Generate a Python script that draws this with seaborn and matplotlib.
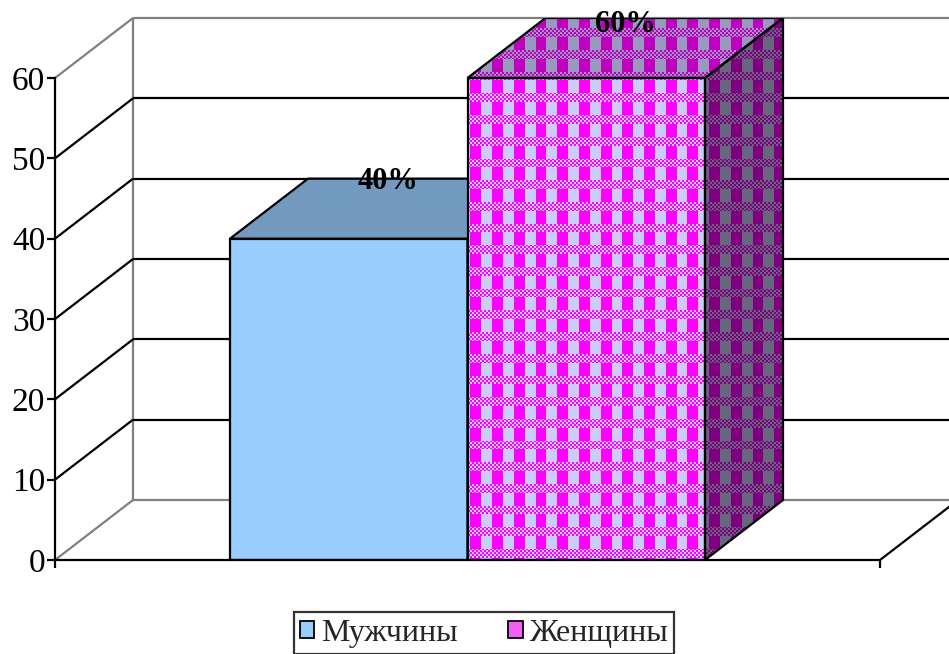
import numpy as np
import matplotlib
matplotlib.use("Agg")
import matplotlib.pyplot as plt
from matplotlib.patches import Polygon, Patch
import pandas as pd
import seaborn as sns

# ---- data ---------------------------------------------------------------
categories = ["Мужчины", "Женщины"]
values = [40, 60]
value_labels = ["40%", "60%"]
y_ticks = [0, 10, 20, 30, 40, 50, 60]

# ---- style --------------------------------------------------------------
sns.set_style("white")
plt.rcParams["font.family"] = ["Liberation Serif", "DejaVu Serif"]

BLUE = "#99CCFF"
MAGENTA = np.array([255, 0, 255]) / 255
LAVENDER = np.array([204, 204, 255]) / 255
GRAY = "#808080"
LW = 1.6

W, H = 949, 654
fig = plt.figure(figsize=(W / 100, H / 100), dpi=100)

# plot area (pixels from the top-left corner of the figure)
left_px, right_px = 55, 949
bottom_px, top_px = 560, 18
ax = fig.add_axes([left_px / W, 1 - bottom_px / H,
                   (right_px - left_px) / W, (bottom_px - top_px) / H])

df = pd.DataFrame({"sex": categories, "share": values})
sns.barplot(data=df, x="sex", y="share", hue="sex", order=categories,
            hue_order=categories, palette=[BLUE, "#FF00FF"], width=1.0,
            saturation=1, edgecolor="black", linewidth=LW, legend=False,
            ax=ax, zorder=5)

# ---- scales: category unit = 237.5 px, value unit = 482/60 px ----------
px_x = 237.5
px_y = 482 / 60
depth_px = (78, 60)
x_front0 = -0.5 - 175 / px_x
x_front1 = 1.5 + 175 / px_x
x_lim = (x_front0, x_front0 + (right_px - left_px) / px_x)
y_lim = (0, (bottom_px - top_px) / px_y)
dx = depth_px[0] / px_x
dy = depth_px[1] / px_y
vmax = y_ticks[-1]


def line(xs, ys, color="black", lw=LW, z=1):
    ax.plot(xs, ys, color=color, lw=lw, zorder=z, clip_on=False,
            solid_capstyle="butt")


# walls, floor and gridlines
line([x_front0 + dx, x_front0 + dx], [dy, vmax + dy], GRAY)
line([x_front0 + dx, x_front1 + dx], [vmax + dy, vmax + dy], GRAY)
line([x_front0 + dx, x_front1 + dx], [dy, dy], GRAY)
line([x_front0, x_front0 + dx], [0, dy], GRAY)
line([x_front0, x_front0 + dx], [vmax, vmax + dy], GRAY)
for v in y_ticks[1:-1]:
    line([x_front0, x_front0 + dx], [v, v + dy])
    line([x_front0 + dx, x_front1 + dx], [v + dy, v + dy])
line([x_front1, x_front1 + dx], [0, dy])

ax.set_xlim(*x_lim)
ax.set_ylim(*y_lim)


def texture(nx, ny, y_anchor):
    """Gingham-like check: block rows of magenta/lavender columns
    separated by bands of a fine two-colour checker."""
    X, Y = np.meshgrid(np.arange(nx), np.arange(ny))
    period = 21.7
    col_mag = ((X - 2) % period) < period / 2
    block_row = ((Y - y_anchor - 2) % period) < 13
    fine = ((X // 2 + Y // 2) % 2) == 0
    use_mag = np.where(block_row, col_mag, fine)
    return np.where(use_mag[..., None], MAGENTA, LAVENDER)


bars = list(ax.patches)
for i, p in enumerate(bars):
    x0, w, h = p.get_x(), p.get_width(), p.get_height()
    x1 = x0 + w
    z = 5 + i
    p.set_zorder(z + 0.5)
    top_poly = Polygon([(x0, h), (x1, h), (x1 + dx, h + dy), (x0 + dx, h + dy)],
                       closed=True, edgecolor="black", lw=LW, zorder=z + 0.5,
                       joinstyle="miter")
    side_poly = Polygon([(x1, 0), (x1, h), (x1 + dx, h + dy), (x1 + dx, dy)],
                        closed=True, edgecolor="black", lw=LW, zorder=z + 0.5,
                        joinstyle="miter")
    base = np.array(matplotlib.colors.to_rgb(p.get_facecolor()))
    if i == 0:
        top_poly.set_facecolor(base * 0.75)
        side_poly.set_facecolor(base * 0.5)
        ax.add_patch(side_poly)
        ax.add_patch(top_poly)
    else:
        # patterned bar: texture drawn once per face, shaded per face
        (px0, py0), (px1, py1) = ax.transData.transform([(x0, 0), (x1 + dx, h + dy)])
        nx, ny = int(round(px1 - px0)), int(round(py1 - py0))
        tex = texture(nx, ny, depth_px[1])
        ext = (x0, x1 + dx, 0, h + dy)
        p.set_facecolor((0, 0, 0, 0))
        top_poly.set_facecolor("none")
        side_poly.set_facecolor("none")
        ax.add_patch(side_poly)
        ax.add_patch(top_poly)
        for shade, clip in [(1.0, p), (0.75, top_poly), (0.5, side_poly)]:
            im = ax.imshow(tex * shade, extent=ext, origin="upper",
                           aspect="auto", interpolation="nearest", zorder=z)
            im.set_clip_path(clip)
    ax.text(x0 + w / 2 + dx / 2, min(h + dy - 0.4, y_lim[1] - 0.8),
            value_labels[i], ha="center", va="center", fontsize=22,
            fontweight="bold", color="black", zorder=20)

ax.set_xlim(*x_lim)
ax.set_ylim(*y_lim)

# ---- axes ---------------------------------------------------------------
for s in ["top", "right"]:
    ax.spines[s].set_visible(False)
ax.spines["left"].set_bounds(0, vmax)
ax.spines["bottom"].set_bounds(x_front0, x_front1)
for s in ["left", "bottom"]:
    ax.spines[s].set_color("black")
    ax.spines[s].set_linewidth(LW)
    ax.spines[s].set_zorder(15)
ax.set_yticks(y_ticks)
ax.set_yticklabels([str(t) for t in y_ticks])
ax.set_xticks([x_front0, x_front1])
ax.set_xticklabels(["", ""])
ax.tick_params(axis="both", direction="out", length=6, width=LW,
               color="black", labelsize=24, labelcolor="black", pad=1,
               left=True, bottom=True)
ax.set_xlabel("")
ax.set_ylabel("")
ax.grid(False)
ax.set_facecolor("none")

# ---- legend -------------------------------------------------------------
handles = [Patch(facecolor=BLUE, edgecolor="black", lw=1.3),
           Patch(facecolor="#F060F8", edgecolor="black", lw=1.3)]
leg = fig.legend(handles, categories, loc="center",
                 bbox_to_anchor=(484 / W, 1 - 633 / H), ncol=2, fontsize=23,
                 frameon=True, fancybox=False, shadow=False,
                 handlelength=0.45, handleheight=0.45, handletextpad=0.2,
                 columnspacing=1.6, borderpad=0.2, borderaxespad=0)
leg.get_frame().set_edgecolor("black")
leg.get_frame().set_linewidth(LW)
leg.get_frame().set_facecolor("white")

fig.savefig("out.png", dpi=100, facecolor="white")
